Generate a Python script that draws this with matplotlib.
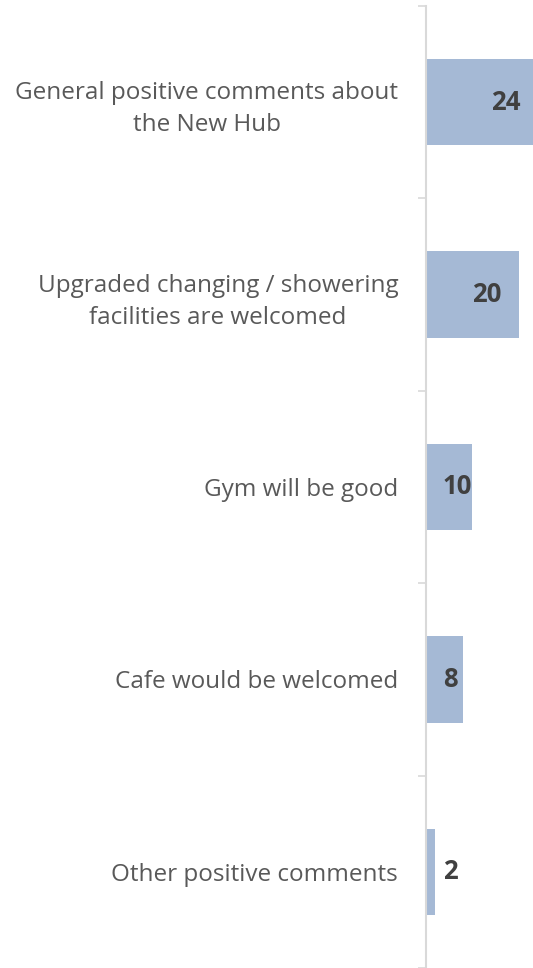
import matplotlib.pyplot as plt

categories = [
    "General positive comments about\nthe New Hub",
    "Upgraded changing / showering\nfacilities are welcomed",
    "Gym will be good",
    "Cafe would be welcomed",
    "Other positive comments",
]
counts = [24, 20, 10, 8, 2]

BAR_COLOR = "#A5B9D5"
TEXT_COLOR = "#595959"
VALUE_COLOR = "#404040"
AXIS_COLOR = "#D9D9D9"

plt.rcParams["font.family"] = ["Open Sans", "DejaVu Sans"]

fig = plt.figure(figsize=(5.33, 9.68), dpi=100)
ax = fig.add_axes([426 / 533, 0.0, 1 - 426 / 533, 962 / 968])

y = list(range(len(categories)))
ax.barh(y, counts, height=0.45, color=BAR_COLOR, zorder=2)

ax.set_xlim(0, 23.1)
ax.set_ylim(len(categories) - 0.5, -0.5)

for yi, v in zip(y, counts):
    ax.text(max(v - 10, 3.6), yi, str(v), ha="left", va="center",
            fontsize=18.5, fontweight="bold", color=VALUE_COLOR, zorder=3)

ax.set_yticks(y)
ax.set_yticklabels(categories)
for lbl in ax.get_yticklabels():
    lbl.set_horizontalalignment("right")
    lbl.set_multialignment("center")
    lbl.set_linespacing(1.45)
ax.tick_params(axis="y", which="major", length=0, pad=20,
               labelsize=17.5, labelcolor=TEXT_COLOR)
ax.set_yticks([i - 0.5 for i in range(len(categories) + 1)], minor=True)
ax.tick_params(axis="y", which="minor", length=6, width=1.2,
               color=AXIS_COLOR, direction="out")

ax.set_xticks([])
for side in ("top", "right", "bottom"):
    ax.spines[side].set_visible(False)
ax.spines["left"].set_color(AXIS_COLOR)
ax.spines["left"].set_linewidth(1.5)

fig.savefig("out.png", dpi=100)
